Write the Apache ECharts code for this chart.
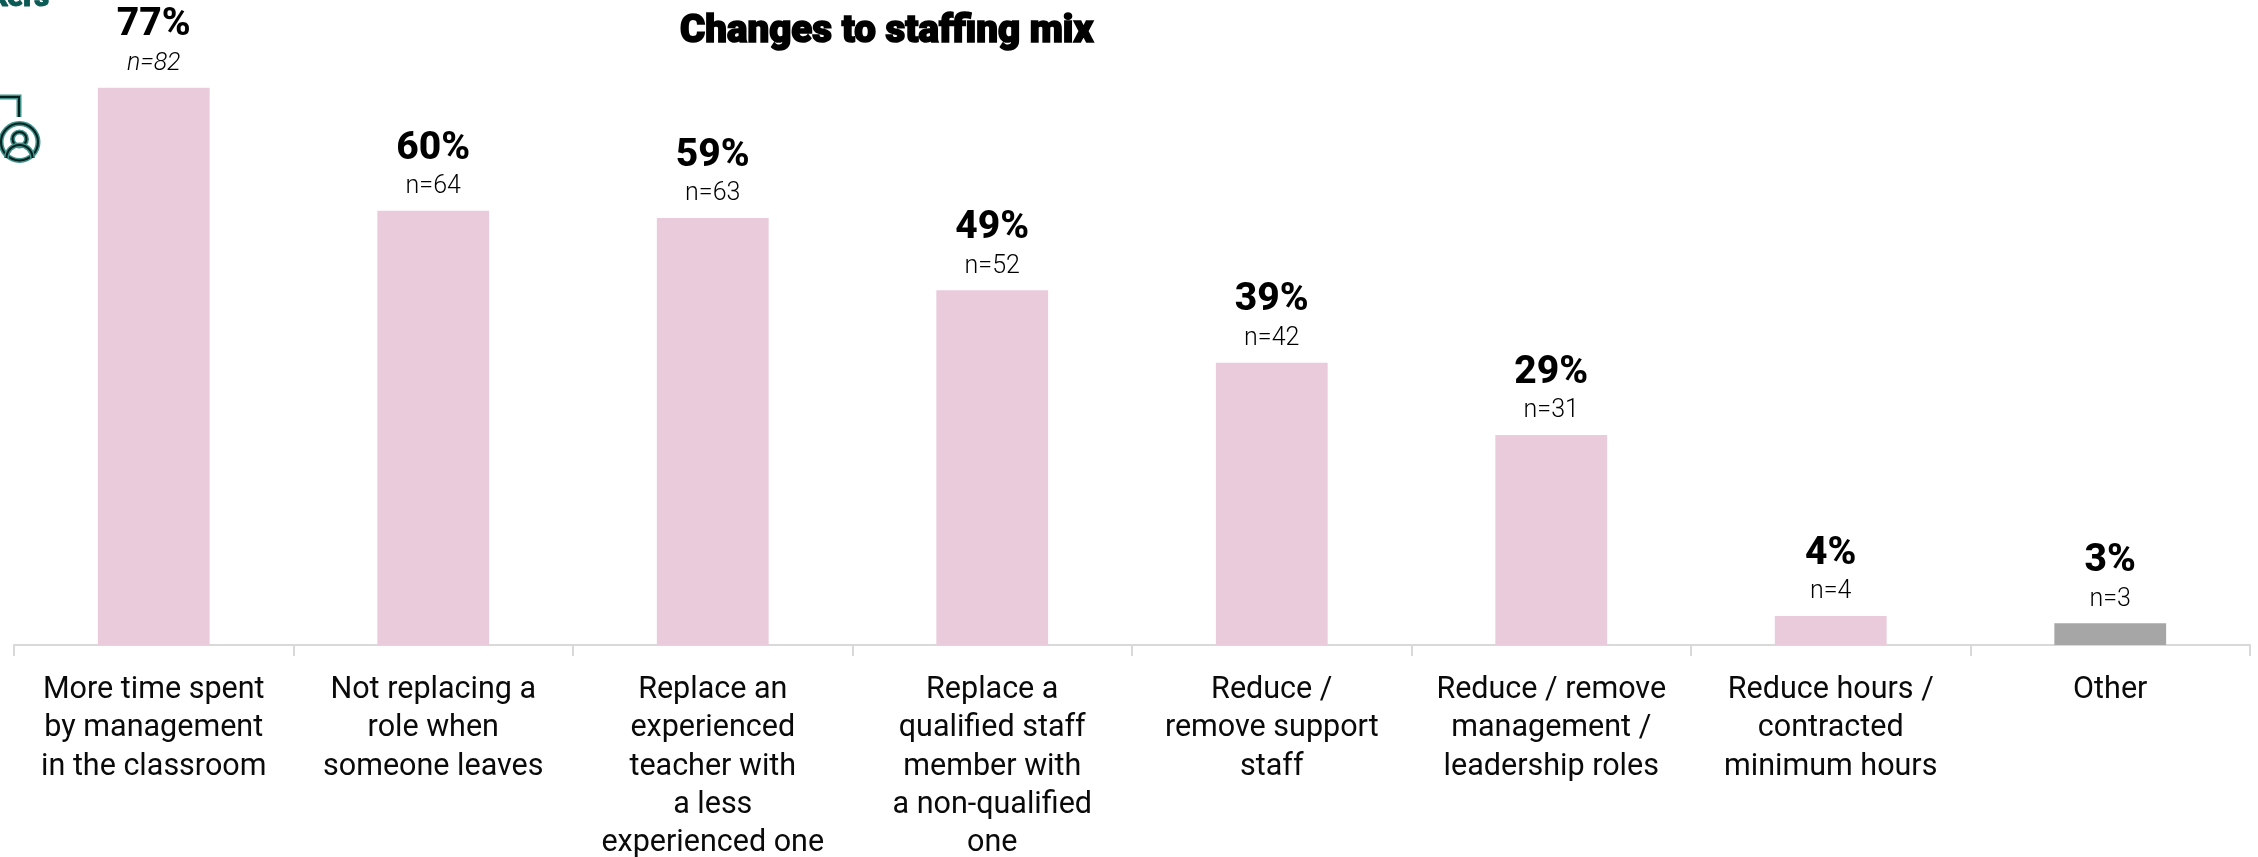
<!DOCTYPE html>
<html>
<head>
<meta charset="utf-8">
<style>html,body{margin:0;padding:0;background:#fff}#chart{width:2258px;height:857px}</style>
<script src="https://cdn.jsdelivr.net/npm/echarts@6/dist/echarts.min.js"></script>
</head>
<body>
<div id="chart"></div>
<script>
// Reported changes to staffing mix: share of respondents and respondent counts.
const categories = [
  'More time spent\nby management\nin the classroom',
  'Not replacing a\nrole when\nsomeone leaves',
  'Replace an\nexperienced\nteacher with\na less\nexperienced one',
  'Replace a\nqualified staff\nmember with\na non-qualified\none',
  'Reduce /\nremove support\nstaff',
  'Reduce / remove\nmanagement /\nleadership roles',
  'Reduce hours /\ncontracted\nminimum hours',
  'Other'
];
const percentages = [77, 60, 59, 49, 39, 29, 4, 3];
const counts = [82, 64, 63, 52, 42, 31, 4, 3];
const italicCountIndex = 0;
const pink = '#e9cbdc';
const grey = '#a6a6a6';
const teal = '#0b5a55';
const tealHalo = '#3f938c';
const fontFamily = 'Roboto, "Noto Sans", sans-serif';

const barData = percentages.map((v, i) => ({
  value: v,
  itemStyle: { color: categories[i] === 'Other' ? grey : pink }
}));

// Icon strokes are drawn twice: a wider teal stroke with a thin black core on top.
function twoTone(type, shape) {
  return [
    { type, shape, style: { stroke: tealHalo, lineWidth: 5, fill: 'none' } },
    { type, shape, style: { stroke: '#06201e', lineWidth: 2, fill: 'none' } }
  ];
}

const chart = echarts.init(document.getElementById('chart'), null, { renderer: 'canvas' });
chart.setOption({
  animation: false,
  backgroundColor: '#fff',
  textStyle: { fontFamily },
  title: {
    text: 'Changes to staffing mix',
    left: 675, top: 8,
    textStyle: {
      fontFamily, fontWeight: 900, fontSize: 38.5, color: '#000',
      textBorderColor: '#000', textBorderWidth: 1.6
    }
  },
  grid: { left: 14, right: 8, top: 66, bottom: 212, outerBoundsMode: 'none' },
  xAxis: {
    type: 'category',
    data: categories,
    axisLine: { lineStyle: { color: '#d9d9d9', width: 2 } },
    axisTick: { show: true, alignWithLabel: false, length: 11, lineStyle: { color: '#d9d9d9', width: 2 } },
    axisLabel: {
      interval: 0, margin: 26, fontSize: 30.5, lineHeight: 38.4, color: '#0a0a0a', fontFamily,
      hideOverlap: false
    }
  },
  yAxis: { type: 'value', min: 0, max: 80, show: false, splitLine: { show: false } },
  series: [{
    type: 'bar',
    data: barData,
    barWidth: '40%',
    label: {
      show: true,
      position: 'top',
      distance: 9,
      formatter: p => `{pct|${percentages[p.dataIndex]}%}\n{${p.dataIndex === italicCountIndex ? 'ni' : 'n'}|n=${counts[p.dataIndex]}}`,
      rich: {
        pct: { fontFamily, fontSize: 39, fontWeight: 800, color: '#000', lineHeight: 46, align: 'center' },
        n: { fontFamily, fontSize: 25, fontWeight: 300, color: '#000', lineHeight: 30, align: 'center' },
        ni: { fontFamily, fontSize: 25, fontWeight: 300, fontStyle: 'italic', color: '#000', lineHeight: 30, align: 'center' }
      }
    }
  }],
  graphic: [
    { type: 'text', style: { x: 49, y: 13, align: 'right', verticalAlign: 'bottom', text: 'Workers', fontFamily, fontWeight: 900, fontSize: 29, fill: teal, stroke: teal, lineWidth: 1 } },
    ...twoTone('polyline', { points: [[0, 97], [19, 97], [19, 117]] }),
    ...twoTone('circle', { cx: 19.5, cy: 142, r: 18.5 }),
    ...twoTone('circle', { cx: 19.5, cy: 139, r: 7 }),
    ...twoTone('arc', { cx: 19.5, cy: 158, r: 13, startAngle: Math.PI, endAngle: 2 * Math.PI })
  ]
});
</script>
</body>
</html>
